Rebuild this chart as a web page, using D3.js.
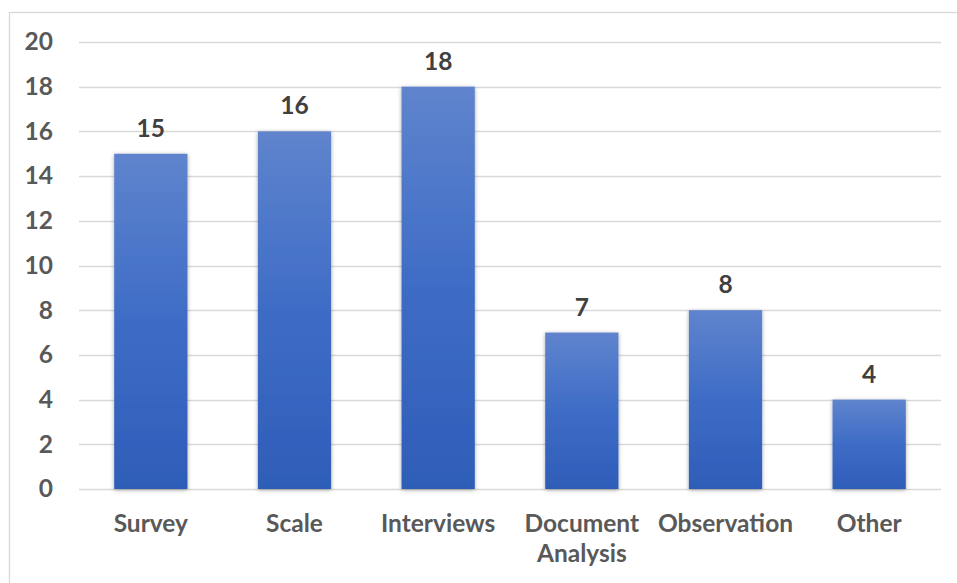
<!DOCTYPE html>
<html>
<head>
<meta charset="utf-8">
<script src="https://cdn.jsdelivr.net/npm/d3@7"></script>
<style>
  html, body { margin: 0; padding: 0; background: #fff; }
  svg { display: block; font-family: Lato, "Open Sans", sans-serif; }
</style>
</head>
<body>
<svg id="chart" width="957" height="583"></svg>
<script>
const categories = ["Survey", "Scale", "Interviews", "Document Analysis", "Observation", "Other"];
const values = [15, 16, 18, 7, 8, 4];
const yTicks = [0, 2, 4, 6, 8, 10, 12, 14, 16, 18, 20];

const svg = d3.select("#chart");
const W = 957, H = 583;
const margin = { left: 79, right: 16, top: 42, bottom: 94 };
const plotW = W - margin.left - margin.right;
const plotH = H - margin.top - margin.bottom;
const FS = 24.5;

// chart frame
svg.append("rect")
  .attr("x", 9.5).attr("y", 12.5)
  .attr("width", W).attr("height", H)
  .attr("fill", "none").attr("stroke", "#d9d9d9").attr("stroke-width", 1.3);

const defs = svg.append("defs");
const grad = defs.append("linearGradient")
  .attr("id", "barGrad").attr("x1", 0).attr("y1", 0).attr("x2", 0).attr("y2", 1);
grad.append("stop").attr("offset", "0%").attr("stop-color", "#5f84cd");
grad.append("stop").attr("offset", "50%").attr("stop-color", "#3e6cc6");
grad.append("stop").attr("offset", "100%").attr("stop-color", "#2e5db8");

const shadow = defs.append("filter").attr("id", "barShadow")
  .attr("x", "-20%").attr("y", "-10%").attr("width", "140%").attr("height", "125%");
shadow.append("feGaussianBlur").attr("in", "SourceAlpha").attr("stdDeviation", 2.2).attr("result", "blur");
shadow.append("feOffset").attr("dx", 0).attr("dy", 1).attr("result", "off");
shadow.append("feComponentTransfer").append("feFuncA").attr("type", "linear").attr("slope", 0.35);
const merge = shadow.append("feMerge");
merge.append("feMergeNode");
merge.append("feMergeNode").attr("in", "SourceGraphic");

const g = svg.append("g").attr("transform", `translate(${margin.left},${margin.top})`);

const x = d3.scaleBand().domain(categories).range([0, plotW]).paddingInner(0.49).paddingOuter(0.245);
const y = d3.scaleLinear().domain([0, 20]).range([plotH, 0]);

// gridlines
g.append("g").selectAll("line").data(yTicks).join("line")
  .attr("x1", 0).attr("x2", plotW)
  .attr("y1", d => Math.round(y(d)) + 0.5).attr("y2", d => Math.round(y(d)) + 0.5)
  .attr("stroke", "#d9d9d9").attr("stroke-width", 1.6);

// y axis labels
const yAxis = d3.axisLeft(y).tickValues(yTicks).tickSize(0).tickPadding(26);
const ya = g.append("g").call(yAxis);
ya.select(".domain").remove();
ya.selectAll("text")
  .attr("fill", "#595959").attr("font-size", FS).attr("font-weight", 700)
  .attr("font-family", "Lato, sans-serif");

// bars
g.append("g").selectAll("rect").data(values).join("rect")
  .attr("x", (d, i) => x(categories[i]))
  .attr("y", d => y(d))
  .attr("width", x.bandwidth())
  .attr("height", d => y(0) - y(d))
  .attr("fill", "url(#barGrad)")
  .attr("filter", "url(#barShadow)");

// value labels
g.append("g").selectAll("text").data(values).join("text")
  .attr("x", (d, i) => x(categories[i]) + x.bandwidth() / 2)
  .attr("y", d => y(d) - 17)
  .attr("text-anchor", "middle")
  .attr("fill", "#404040").attr("font-size", FS).attr("font-weight", 700)
  .text(d => d);

// category labels (wrapped onto two lines where needed)
const xAxis = d3.axisBottom(x).tickSize(0).tickPadding(0);
const xa = g.append("g").attr("transform", `translate(0,${plotH})`).call(xAxis);
xa.select(".domain").remove();
xa.selectAll("text").each(function(d) {
  const t = d3.select(this);
  t.text(null).attr("y", 0).attr("dy", null)
    .attr("fill", "#595959").attr("font-size", FS).attr("font-weight", 700)
    .attr("font-family", "Lato, sans-serif");
  const lines = d === "Document Analysis" ? ["Document", "Analysis"] : [d];
  lines.forEach((ln, k) => {
    t.append("tspan").attr("x", 0).attr("y", 43 + k * 30).text(ln);
  });
});
</script>
</body>
</html>
